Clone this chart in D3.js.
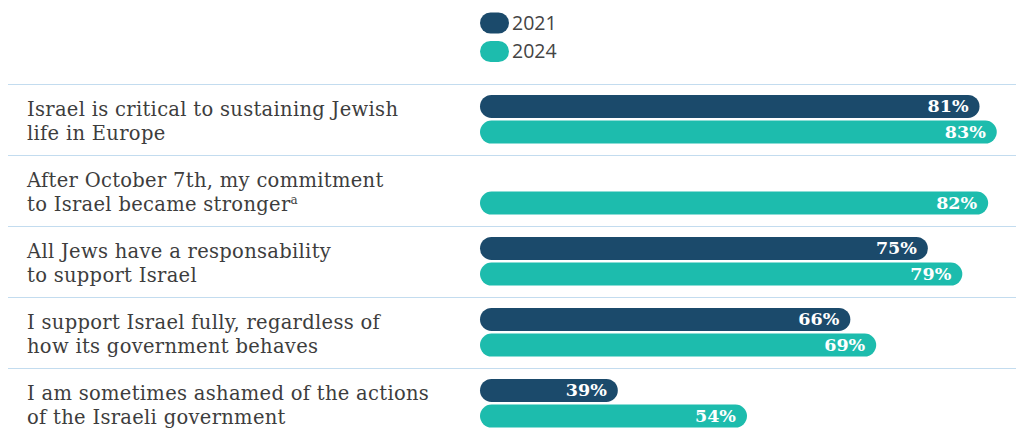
<!DOCTYPE html>
<html>
<head>
<meta charset="utf-8">
<script src="https://cdn.jsdelivr.net/npm/d3@7"></script>
<style>
  html, body { margin: 0; padding: 0; background: #fff; }
  svg { display: block; }
</style>
</head>
<body>
<svg id="chart" width="1016" height="432"></svg>
<script>
// Survey statements (each split into its two display lines)
const statements = [
  ["Israel is critical to sustaining Jewish", "life in Europe"],
  ["After October 7th, my commitment", "to Israel became stronger"],
  ["All Jews have a responsability", "to support Israel"],
  ["I support Israel fully, regardless of", "how its government behaves"],
  ["I am sometimes ashamed of the actions", "of the Israeli government"]
];
const footnotes = ["", "a", "", "", ""];
const years = ["2021", "2024"];
const values2021 = [81, null, 75, 66, 39];
const values2024 = [83, 82, 79, 69, 54];

const colors = { "2021": "#1b4a6b", "2024": "#1dbcad" };

const svg = d3.select("#chart");
const W = 1016;

const rowKeys = statements.map((d, i) => i);
const y = d3.scaleBand().domain(rowKeys).range([84.5, 84.5 + 71 * statements.length]);
const inner = d3.scaleBand().domain(years).range([10.5, 59]).paddingInner(0.1);
const x = d3.scaleLinear().domain([23, 85]).range([480, 1014]);

// Legend
const legend = svg.append("g");
years.forEach((yr, i) => {
  const g = legend.append("g").attr("transform", `translate(480,${12.5 + i * 28.5})`);
  g.append("rect").attr("width", 29).attr("height", 21).attr("rx", 10.5).attr("fill", colors[yr]);
  g.append("text").attr("x", 32).attr("y", 17)
    .attr("font-family", "'Open Sans', sans-serif").attr("font-size", 19.5)
    .attr("fill", "#444").text(yr);
});

// Row separators
svg.selectAll("line.sep").data(rowKeys).join("line")
  .attr("class", "sep")
  .attr("x1", 8).attr("x2", W)
  .attr("y1", d => y(d)).attr("y2", d => y(d))
  .attr("stroke", "#c3dcef").attr("stroke-width", 1.2);

// Statement labels
const labels = svg.selectAll("text.lab").data(rowKeys).join("text")
  .attr("class", "lab")
  .attr("font-family", "'DejaVu Serif', serif")
  .attr("font-size", 19.5)
  .attr("letter-spacing", 0.3)
  .attr("fill", "#3d3d3d");
labels.each(function (d) {
  const t = d3.select(this);
  t.append("tspan").attr("x", 27).attr("y", y(d) + 31.5).text(statements[d][0]);
  t.append("tspan").attr("x", 27).attr("y", y(d) + 55.5).text(statements[d][1]);
  if (footnotes[d]) {
    t.append("tspan").attr("dy", -7).attr("font-size", 12).text(footnotes[d]);
  }
});

// Bars
const series = { "2021": values2021, "2024": values2024 };
const barData = [];
rowKeys.forEach(i => years.forEach(yr => {
  const v = series[yr][i];
  if (v != null) barData.push({ row: i, year: yr, value: v });
}));

const h = inner.bandwidth();
svg.selectAll("rect.bar").data(barData).join("rect")
  .attr("class", "bar")
  .attr("x", x(23))
  .attr("y", d => y(d.row) + inner(d.year))
  .attr("width", d => x(d.value) - x(23))
  .attr("height", h)
  .attr("rx", h / 2)
  .attr("fill", d => colors[d.year]);

svg.selectAll("text.val").data(barData).join("text")
  .attr("class", "val")
  .attr("x", d => x(d.value) - 11)
  .attr("y", d => y(d.row) + inner(d.year) + h / 2 + 6)
  .attr("text-anchor", "end")
  .attr("font-family", "'DejaVu Serif', serif")
  .attr("font-weight", "bold")
  .attr("font-size", 17.5)
  .attr("fill", "#fff")
  .text(d => d.value + "%");
</script>
</body>
</html>
